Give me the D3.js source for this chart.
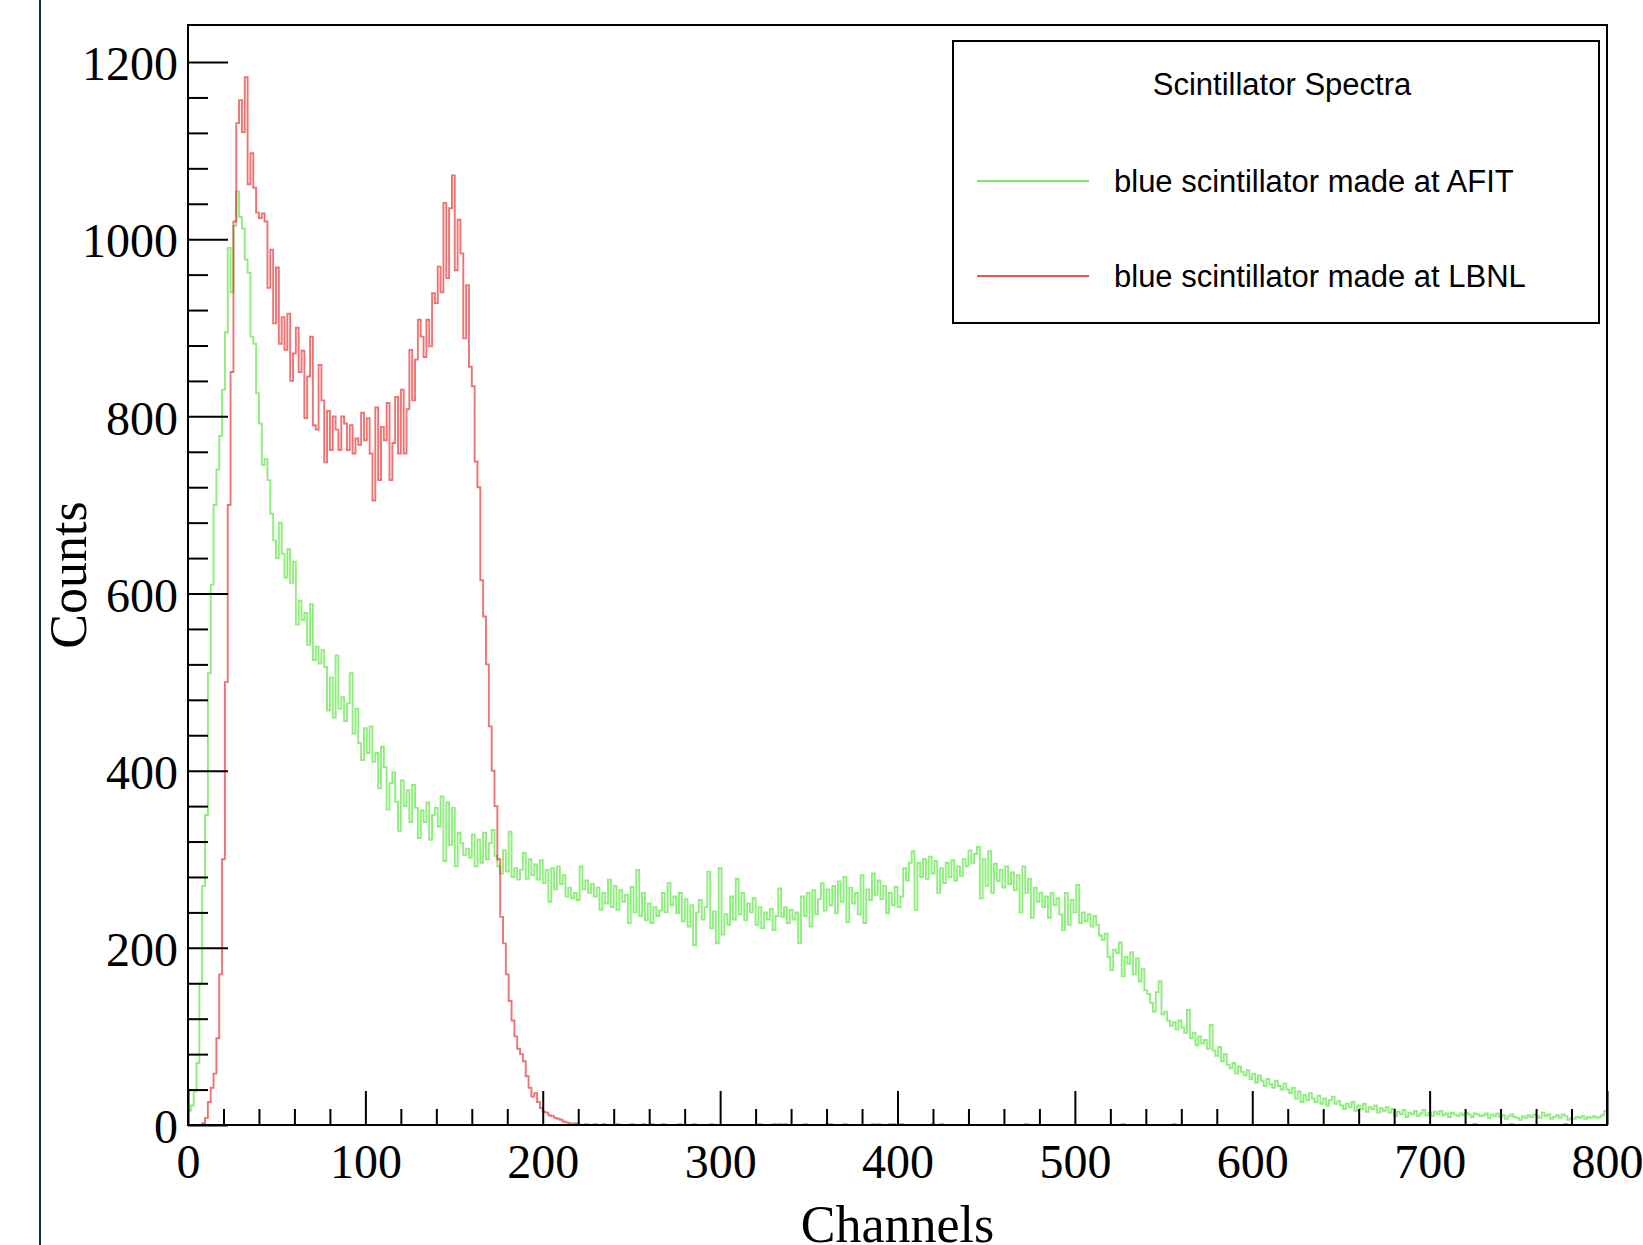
<!DOCTYPE html>
<html lang="en">
<head>
<meta charset="utf-8">
<title>Scintillator Spectra</title>
<script src="https://cdn.jsdelivr.net/npm/d3@7"></script>
<style>
  body { margin: 0; padding: 0; background: #fff; }
  svg { display: block; }
  .tick text { font-family: "Liberation Serif", "Times New Roman", serif; font-size: 48px; fill: #000; }
  .tick line { stroke: #000; stroke-width: 2px; }
  .axis-title { font-family: "Liberation Serif", "Times New Roman", serif; font-size: 52px; fill: #000; }
  .legend text { font-family: "Liberation Sans", Arial, Helvetica, sans-serif; font-size: 31px; fill: #000; }
</style>
</head>
<body>
<svg id="chart" width="1643" height="1245"></svg>
<script>
// histogram bins: 500 bins of 1.6 channels over 0..800
var binWidth = 1.6;

// blue scintillator made at AFIT
var afitCounts = [
  16,22,38,70,160,270,350,510,610,700,
  740,778,830,895,990,940,1015,1054,1025,1012,
  977,962,890,882,826,792,745,752,728,690,
  660,640,680,645,618,650,612,636,565,592,
  570,578,542,588,525,540,521,536,517,468,
  505,460,530,470,483,456,476,510,442,470,
  431,412,448,420,450,410,420,380,427,404,
  356,386,398,365,332,389,360,378,342,384,
  358,324,355,342,364,322,350,358,337,371,
  298,364,316,358,292,330,318,305,312,302,
  328,292,322,296,330,300,318,333,304,292,
  284,310,286,331,280,290,277,288,307,278,
  300,282,294,277,299,273,288,252,290,266,
  292,272,282,258,268,256,262,254,292,266,
  276,262,272,258,268,243,262,250,277,246,
  270,243,265,252,260,228,269,240,288,236,
  262,231,250,228,246,236,242,262,240,273,
  248,258,239,262,230,255,224,248,203,240,
  254,232,246,286,222,241,205,290,215,238,
  226,258,232,278,238,262,231,250,240,256,
  226,246,222,240,232,244,220,236,267,235,
  246,228,243,232,240,205,258,236,262,224,
  265,238,255,273,242,266,248,270,239,275,
  252,280,229,268,250,262,238,282,228,266,
  254,284,260,276,255,270,239,262,248,269,
  246,258,290,276,296,309,243,296,280,300,
  278,303,284,298,262,290,273,296,280,299,
  276,292,281,300,292,310,296,306,314,256,
  300,270,309,262,295,275,288,268,292,272,
  285,265,282,240,292,262,278,234,268,252,
  262,246,258,234,262,248,256,238,220,262,
  226,254,240,271,228,240,230,238,224,236,
  226,214,209,216,190,175,198,194,206,168,
  190,182,195,170,188,162,176,152,148,138,
  128,150,162,125,128,118,112,116,108,118,
  110,104,130,98,104,90,100,92,96,86,
  113,84,78,88,72,80,68,64,70,58,
  66,60,56,62,52,58,48,56,50,44,
  52,46,42,50,44,40,47,40,36,42,
  30,38,26,34,28,36,30,26,33,24,
  30,22,28,32,24,27,22,18,24,20,
  26,16,22,18,24,15,20,18,22,14,
  19,16,20,14,18,10,15,12,17,9,
  14,12,16,10,13,17,11,14,10,15,
  12,16,11,13,9,14,12,10,13,11,
  14,12,9,13,12,10,11,13,8,12,
  10,13,9,11,7,10,12,9,8,6,
  10,8,11,9,12,10,8,14,10,12,
  7,9,11,8,12,10,6,8,7,9,
  8,10,7,9,8,10,8,9,11,16
];

// blue scintillator made at LBNL
var lbnlCounts = [
  0,0,0,0,0,2,8,26,42,58,
  98,170,300,500,700,850,1020,1131,1157,1121,
  1183,1062,1097,1058,1030,1024,1029,1020,945,988,
  905,968,882,912,875,916,840,871,900,850,
  874,798,845,890,790,785,858,818,748,806,
  762,800,785,762,800,792,762,790,758,775,
  768,804,773,798,758,705,810,728,788,773,
  815,728,770,822,758,830,758,808,875,818,
  864,909,890,867,909,879,939,928,969,940,
  1041,956,1035,1072,965,1022,984,888,948,856,
  834,749,720,615,574,520,450,400,360,300,
  235,205,170,140,118,100,86,80,72,55,
  42,32,36,26,19,15,14,11,10,8,
  7,6,4,3,2,1,2,1,0,0,
  1,0,0,1,0,0,1,0,0,0,
  0,1,0,0,0,0,1,0,0,0,
  1,0,0,1,0,0,0,1,0,0,
  0,0,0,1,0,0,0,0,1,0,
  0,0,0,0,1,0,0,0,0,0,
  0,0,0,0,0,0,0,0,0,0,
  0,1,0,0,0,0,1,0,1,0,
  1,0,0,0,0,0,0,1,0,0,
  0,0,0,0,0,1,1,0,0,0,
  0,1,0,0,0,0,0,0,0,0,
  0,1,0,1,0,0,0,1,1,0,
  0,1,0,0,0,0,0,0,0,0,
  0,0,1,0,0,1,0,0,0,0,
  0,0,0,0,0,0,0,0,0,0,
  0,0,0,0,0,0,0,0,0,0,
  0,0,0,0,0,1,0,0,0,0,
  0,0,0,0,0,0,0,0,0,0,
  0,0,0,0,0,0,0,0,0,0,
  0,0,0,0,0,0,0,0,0,1,
  0,0,0,0,0,0,0,0,0,0,
  0,0,0,0,0,0,0,1,0,0,
  0,0,0,0,0,0,0,0,0,0,
  0,0,0,0,0,0,0,0,0,0,
  0,0,0,0,0,0,0,0,0,0,
  0,0,0,0,0,0,0,0,0,0,
  0,0,0,0,0,0,0,0,0,0,
  0,0,0,0,0,0,0,0,0,0,
  0,0,0,0,0,0,0,0,0,0,
  0,0,0,0,0,0,0,0,0,0,
  0,0,0,0,0,0,0,0,0,0,
  0,0,0,0,0,0,0,0,0,0,
  0,0,0,1,0,0,0,0,0,0,
  0,0,0,0,0,0,1,0,0,0,
  0,0,0,0,0,0,0,0,0,0,
  0,0,0,0,0,1,0,0,0,0,
  0,0,0,0,0,0,0,0,0,0
];

var xMajorTicks = [0, 100, 200, 300, 400, 500, 600, 700, 800];
var yMajorTicks = [0, 200, 400, 600, 800, 1000, 1200];
var seriesNames = ["blue scintillator made at AFIT", "blue scintillator made at LBNL"];
var seriesColors = ["#3ee020", "#e01010"];
var legendTitle = "Scintillator Spectra";
var xTitle = "Channels";
var yTitle = "Counts";

var svg = d3.select("#chart");

// frame
var frame = {left: 188, right: 1607, top: 25, bottom: 1125};

var x = d3.scaleLinear().domain([0, 800]).range([frame.left, frame.right]);
var y = d3.scaleLinear().domain([0, 1241.8]).range([frame.bottom, frame.top]);

svg.append("rect")
  .attr("width", 1643).attr("height", 1245).attr("fill", "#fff");

// dark border line on the left of the canvas
svg.append("rect")
  .attr("x", 39).attr("y", 0).attr("width", 2).attr("height", 1245)
  .attr("fill", "#12303e");

svg.append("clipPath").attr("id", "plotclip")
  .append("rect")
  .attr("x", frame.left).attr("y", frame.top)
  .attr("width", frame.right - frame.left).attr("height", frame.bottom - frame.top);

// histograms as step lines
var step = d3.line()
  .x(function(d){ return x(d[0]); })
  .y(function(d){ return y(d[1]); })
  .curve(d3.curveStepAfter);

function histPoints(counts){
  var pts = [[0, 0]];
  counts.forEach(function(v, i){ pts.push([i * binWidth, v]); });
  pts.push([counts.length * binWidth, counts[counts.length - 1]]);
  return pts;
}

var hists = svg.append("g").attr("clip-path", "url(#plotclip)");
[afitCounts, lbnlCounts].forEach(function(counts, i){
  hists.append("path")
    .attr("d", step(histPoints(counts)))
    .attr("fill", "none")
    .attr("stroke", seriesColors[i])
    .attr("stroke-opacity", 0.58)
    .attr("stroke-width", 1.9);
});

// axes (ticks inside the frame, ROOT style)
var xMinor = d3.range(0, 801, 20).filter(function(v){ return v % 100 !== 0; });
var yMinor = d3.range(0, 1201, 40).filter(function(v){ return v % 200 !== 0; });

svg.append("g")
  .attr("transform", "translate(0," + frame.bottom + ")")
  .call(d3.axisBottom(x).tickValues(xMinor).tickSize(-16).tickFormat(""))
  .call(function(g){ g.select(".domain").remove(); });
svg.append("g")
  .attr("transform", "translate(0," + frame.bottom + ")")
  .call(d3.axisBottom(x).tickValues(xMajorTicks).tickSize(-34).tickSizeOuter(0).tickPadding(19).tickFormat(d3.format("d")))
  .call(function(g){ g.select(".domain").remove(); });

svg.append("g")
  .attr("transform", "translate(" + frame.left + ",0)")
  .call(d3.axisLeft(y).tickValues(yMinor).tickSize(-20).tickFormat(""))
  .call(function(g){ g.select(".domain").remove(); });
svg.append("g")
  .attr("transform", "translate(" + frame.left + ",0)")
  .call(d3.axisLeft(y).tickValues(yMajorTicks).tickSize(-40).tickSizeOuter(0).tickPadding(10).tickFormat(d3.format("d")))
  .call(function(g){ g.select(".domain").remove(); })
  .selectAll("text").attr("dy", "0.37em");

svg.append("rect")
  .attr("x", frame.left).attr("y", frame.top)
  .attr("width", frame.right - frame.left).attr("height", frame.bottom - frame.top)
  .attr("fill", "none").attr("stroke", "#000").attr("stroke-width", 2);

// axis titles
svg.append("text")
  .attr("class", "axis-title")
  .attr("x", (frame.left + frame.right) / 2).attr("y", 1242)
  .attr("text-anchor", "middle")
  .text(xTitle);
svg.append("text")
  .attr("class", "axis-title")
  .attr("transform", "translate(86," + (frame.top + frame.bottom) / 2 + ") rotate(-90)")
  .attr("text-anchor", "middle")
  .text(yTitle);

// legend
var legend = svg.append("g").attr("class", "legend");
legend.append("rect")
  .attr("x", 953).attr("y", 41).attr("width", 646).attr("height", 282)
  .attr("fill", "#fff").attr("stroke", "#000").attr("stroke-width", 2);
legend.append("text")
  .attr("x", 1282).attr("y", 95)
  .attr("text-anchor", "middle")
  .text(legendTitle);
seriesNames.forEach(function(name, i){
  var ly = 181 + i * 95;
  legend.append("line")
    .attr("x1", 977).attr("x2", 1089)
    .attr("y1", ly).attr("y2", ly)
    .attr("stroke", seriesColors[i])
    .attr("stroke-opacity", 0.7)
    .attr("stroke-width", 2);
  legend.append("text")
    .attr("x", 1114).attr("y", ly + 11)
    .text(name);
});
</script>
</body>
</html>
